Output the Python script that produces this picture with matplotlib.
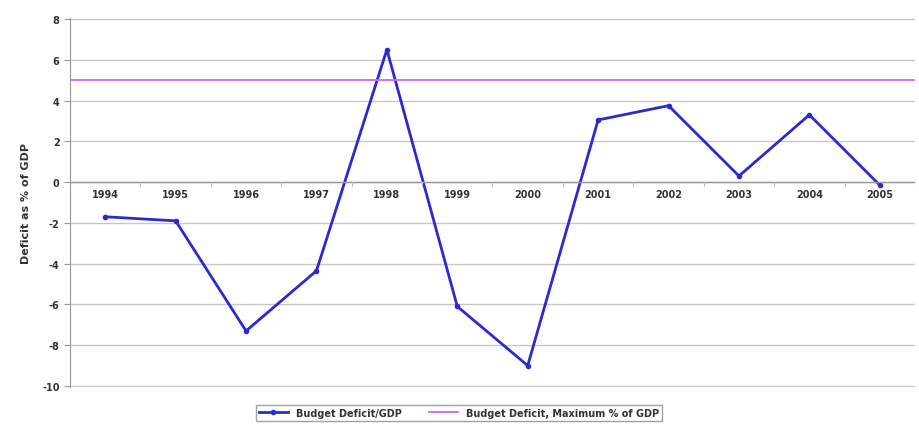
import matplotlib
matplotlib.use("Agg")
import matplotlib.pyplot as plt
import numpy as np

plt.rcParams["axes.unicode_minus"] = False

years = ["1994", "1995", "1996", "1997", "1998", "1999", "2000", "2001", "2002", "2003", "2004", "2005"]
deficit = [-1.7, -1.9, -7.3, -4.35, 6.5, -6.1, -9.0, 3.05, 3.75, 0.3, 3.3, -0.15]
max_deficit = [5] * len(years)

fig = plt.figure(figsize=(9.19, 4.31), dpi=100)
ax = fig.add_axes([70/919, 1 - 388/431, 845/919, 369/431])

x = np.arange(len(years))
ax.plot(x, deficit, color="#2a2ad0", lw=2, marker="o", ms=3, label="Budget Deficit/GDP")
ax.plot([-0.5, len(years) - 0.5], [max_deficit[0], max_deficit[-1]], color="#cc66ee", lw=1.3,
        label="Budget Deficit, Maximum % of GDP")

ax.set_xlim(-0.5, len(years) - 0.5)
ax.set_ylim(-10.05, 8.05)
ax.set_yticks(np.arange(-10, 9, 2))
ax.yaxis.grid(True, color="#c8c8c8", lw=1)
ax.set_axisbelow(True)
for s in ["top", "right", "bottom"]:
    ax.spines[s].set_visible(False)
ax.spines["left"].set_color("#999999")
ax.tick_params(axis="y", labelsize=7, colors="#999999", labelcolor="#333333", length=4)
for lbl in ax.get_yticklabels():
    lbl.set_fontweight("bold")

# category axis at zero like the original
ax.set_xticks([])
ax.axhline(0, color="#999999", lw=1)
for b in np.arange(-0.5, len(years), 1.0):
    ax.plot([b, b], [0, -0.2], color="#bbbbbb", lw=0.8)
for i, yr in enumerate(years):
    ax.text(i, -0.35, yr, ha="center", va="top", fontsize=7, fontweight="bold", color="#333333")

ax.set_ylabel("Deficit as % of GDP", fontsize=8, fontweight="bold", color="#333333", labelpad=8)

leg = ax.legend(loc="upper center", bbox_to_anchor=(0.46, -0.035), ncol=2,
                frameon=True, fancybox=False, edgecolor="#888888", handlelength=3,
                columnspacing=2.8, borderpad=0.3, prop={"weight": "bold", "size": 7})
for t in leg.get_texts():
    t.set_color("#333333")

fig.savefig("out.png", dpi=100)
